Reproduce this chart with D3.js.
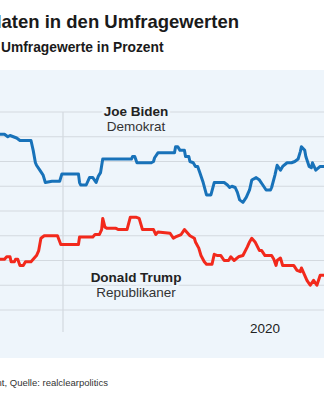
<!DOCTYPE html>
<html lang="de">
<head>
  <meta charset="UTF-8">
  <title>Kandidaten in den Umfragewerten</title>
  <script src="https://cdn.jsdelivr.net/npm/d3@7"></script>
</head>

<style>
body {
  margin: 0;
  background: white;
}
svg {
  display: block;
  font-family: "Liberation Sans", Arial, sans-serif;
}
.grid line {
  stroke: #d3d9df;
  stroke-width: 1.2;
}
.halo {
  stroke: #eef5fb;
  stroke-width: 5;
  paint-order: stroke;
  stroke-linejoin: round;
}
</style>

<body>

  <svg width="324" height="400"></svg>

  <script>

    // RCP-Durchschnitt
    var bidenDates = ["2019-11-01","2019-11-09","2019-11-12","2019-11-14","2019-11-17","2019-11-20","2019-11-23","2019-12-03",
      "2019-12-05","2019-12-07","2019-12-08","2019-12-11","2019-12-14","2019-12-16","2019-12-22","2019-12-29","2019-12-31",
      "2020-01-15","2020-01-16","2020-01-17","2020-01-22","2020-01-25","2020-01-28","2020-01-31","2020-02-02","2020-02-04",
      "2020-02-06","2020-03-03","2020-03-04","2020-03-06","2020-03-08","2020-03-21","2020-03-23","2020-03-24","2020-03-27",
      "2020-04-11","2020-04-12","2020-04-14","2020-04-16","2020-04-20","2020-04-21","2020-04-24","2020-04-25","2020-04-28",
      "2020-04-30","2020-05-02","2020-05-04","2020-05-07","2020-05-10","2020-05-14","2020-05-17","2020-05-26","2020-05-29",
      "2020-05-31","2020-06-02","2020-06-05","2020-06-07","2020-06-09","2020-06-12","2020-06-15","2020-06-18","2020-06-20",
      "2020-06-24","2020-06-27","2020-06-30","2020-07-03","2020-07-07","2020-07-08","2020-07-11","2020-07-13","2020-07-16",
      "2020-07-18","2020-07-22","2020-07-26","2020-07-29","2020-08-01","2020-08-03","2020-08-04","2020-08-07","2020-08-08",
      "2020-08-11","2020-08-13","2020-08-14","2020-08-17","2020-08-21","2020-08-28"]
    var bidenValues = [50.2,50.2,50.0,50.1,50.0,49.9,49.7,49.7,
      48.9,47.9,47.7,47.3,46.9,46.3,46.4,46.4,47.0,
      47.0,46.3,46.1,46.1,46.7,46.7,46.3,46.8,47.1,
      48.2,48.2,48.4,48.4,47.9,47.9,48.0,48.3,48.7,
      48.7,49.2,49.2,48.9,48.9,48.4,48.4,48.0,47.9,
      47.6,47.6,47.1,46.3,45.3,45.3,46.3,46.3,46.1,
      45.9,46.0,45.9,45.5,44.9,44.7,45.1,45.7,46.5,
      46.7,46.5,46.1,45.7,45.7,45.9,46.9,47.7,47.3,
      47.6,47.9,47.9,48.0,48.2,48.8,49.2,48.9,48.4,
      47.6,47.5,47.9,47.3,47.6,47.6]

    var trumpDates = ["2019-11-01","2019-11-09","2019-11-11","2019-11-14","2019-11-15","2019-11-18","2019-11-19","2019-11-21",
      "2019-11-23","2019-11-26","2019-11-28","2019-12-03","2019-12-06","2019-12-08","2019-12-10","2019-12-12","2019-12-15",
      "2019-12-27","2019-12-30","2020-01-15","2020-01-16","2020-01-28","2020-01-30","2020-02-03","2020-02-05","2020-02-06",
      "2020-02-08","2020-02-10","2020-02-18","2020-02-20","2020-02-28","2020-03-02","2020-03-07","2020-03-10","2020-03-13",
      "2020-03-23","2020-03-25","2020-03-27","2020-04-07","2020-04-10","2020-04-12","2020-04-17","2020-04-20","2020-04-22",
      "2020-04-25","2020-04-29","2020-04-30","2020-05-03","2020-05-05","2020-05-08","2020-05-10","2020-05-15","2020-05-17",
      "2020-05-20","2020-05-23","2020-05-26","2020-05-30","2020-06-01","2020-06-04","2020-06-08","2020-06-12","2020-06-16",
      "2020-06-18","2020-06-20","2020-06-23","2020-06-27","2020-06-29","2020-07-02","2020-07-08","2020-07-10","2020-07-12",
      "2020-07-13","2020-07-16","2020-07-18","2020-07-28","2020-07-31","2020-08-03","2020-08-04","2020-08-06","2020-08-09",
      "2020-08-12","2020-08-15","2020-08-18","2020-08-21","2020-08-28"]
    var trumpValues = [40.1,40.1,40.3,40.3,39.9,39.9,40.1,40.1,
      39.6,39.6,39.9,39.9,40.2,40.4,40.8,41.8,42.0,
      42.0,41.3,41.3,41.9,41.9,42.1,42.1,42.5,43.4,
      42.7,42.6,42.6,42.5,42.5,43.5,43.5,43.4,42.5,
      42.5,42.1,42.3,42.2,41.8,41.9,42.1,42.5,42.3,
      42.0,41.8,41.5,41.0,40.4,39.9,39.7,39.7,40.5,
      40.4,40.4,40.0,40.0,40.3,40.0,40.3,40.4,41.1,
      41.5,41.8,41.5,40.8,40.8,40.4,40.4,40.1,39.6,
      40.0,40.2,39.6,39.6,39.2,39.1,39.4,39.0,38.4,
      38.0,38.4,38.0,38.8,38.8]

    var yearStarts = ["2020-01-01", "2021-01-01"]
    var yearLabels = ["2020"]
    var yTicks = [36, 38, 40, 42, 44, 46, 48, 50, 52]

    var parse = d3.utcParse("%Y-%m-%d")
    var biden = bidenDates.map((d, i) => ({date: parse(d), value: bidenValues[i]}))
    var trump = trumpDates.map((d, i) => ({date: parse(d), value: trumpValues[i]}))

    var x = d3.scaleUtc()
      .domain(yearStarts.map(parse))
      .range([63, 467])
    var y = d3.scaleLinear()
      .domain([36, 52])
      .range([310, 112])

    var svg = d3.select('svg')

    // Titel (links abgeschnitten wie im Original)
    svg.append('text')
      .attr('x', 239).attr('y', 28)
      .attr('text-anchor', 'end')
      .style('font-size', '18.5px').style('font-weight', 'bold')
      .attr('fill', '#1a1a1a')
      .text('Kandidaten in den Umfragewerten')
    svg.append('text')
      .attr('x', 1).attr('y', 52)
      .style('font-size', '13.8px').style('font-weight', 'bold')
      .attr('fill', '#1a1a1a')
      .text('Umfragewerte in Prozent')

    svg.append('rect')
      .attr('x', 0).attr('y', 70)
      .attr('width', 324).attr('height', 288)
      .attr('fill', '#eef5fb')

    svg.append('g').attr('class', 'grid')
      .selectAll('line')
      .data(yTicks)
      .enter()
      .append('line')
      .attr('x1', 0).attr('x2', 324)
      .attr('y1', d => y(d)).attr('y2', d => y(d))

    var y0 = parse(yearStarts[0])
    svg.append('line')
      .attr('x1', x(y0)).attr('x2', x(y0))
      .attr('y1', y(52)).attr('y2', 332)
      .attr('stroke', '#d3d9df').attr('stroke-width', 1.2)

    svg.selectAll('.year')
      .data(yearLabels)
      .enter()
      .append('text')
      .attr('class', 'year')
      .attr('x', (d, i) => (x(parse(yearStarts[i])) + x(parse(yearStarts[i + 1]))) / 2)
      .attr('y', 333)
      .attr('text-anchor', 'middle')
      .style('font-size', '13.5px')
      .attr('fill', '#222')
      .text(d => d)

    var line = d3.line()
      .x(d => x(d.date))
      .y(d => y(d.value))

    svg.append('path')
      .datum(biden)
      .attr('d', line)
      .attr('fill', 'none')
      .attr('stroke', '#1872b9')
      .attr('stroke-width', 3)
      .attr('stroke-linejoin', 'round')

    svg.append('path')
      .datum(trump)
      .attr('d', line)
      .attr('fill', 'none')
      .attr('stroke', '#f2291c')
      .attr('stroke-width', 3)
      .attr('stroke-linejoin', 'round')

    // Namen
    var labels = [
      {name: 'Joe Biden', party: 'Demokrat', y: 116},
      {name: 'Donald Trump', party: 'Republikaner', y: 282}
    ]
    var lab = svg.selectAll('.lab')
      .data(labels)
      .enter()
      .append('g')
      .attr('class', 'lab')
      .attr('transform', d => 'translate(136,' + d.y + ')')
    lab.append('text')
      .attr('class', 'halo')
      .attr('text-anchor', 'middle')
      .style('font-size', '13.5px').style('font-weight', 'bold')
      .attr('fill', '#222')
      .text(d => d.name)
    lab.append('text')
      .attr('class', 'halo')
      .attr('text-anchor', 'middle')
      .attr('dy', 15)
      .style('font-size', '13.5px')
      .attr('fill', '#333')
      .text(d => d.party)

    svg.append('text')
      .attr('x', 108).attr('y', 386)
      .attr('text-anchor', 'end')
      .style('font-size', '9.5px')
      .attr('fill', '#333')
      .text('Angaben in Prozent, Quelle: realclearpolitics')
  </script>

</body>
</html>
